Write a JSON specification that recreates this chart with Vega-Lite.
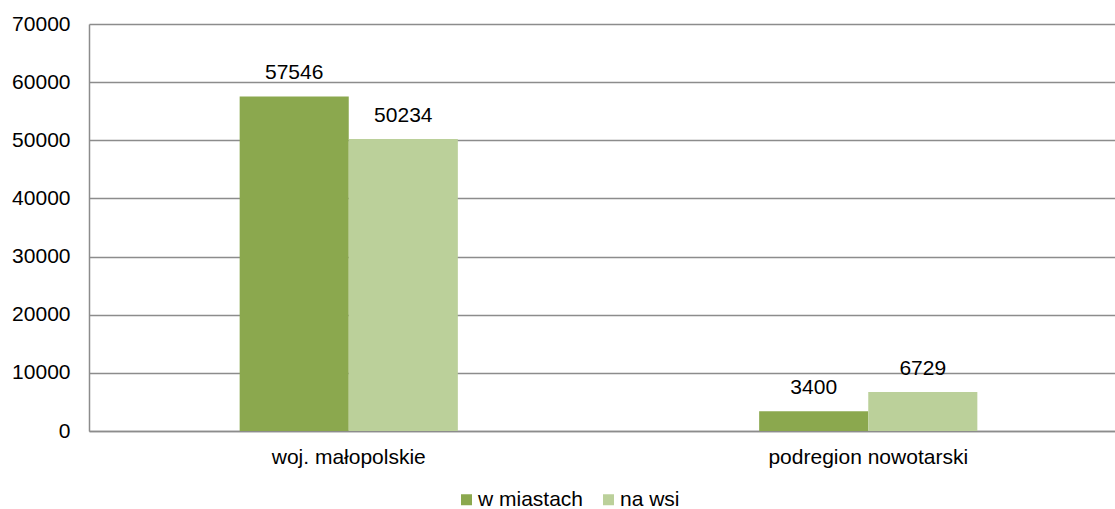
{
  "$schema": "https://vega.github.io/schema/vega-lite/v6.json",
  "width": 1039,
  "height": 407,
  "autosize": "none",
  "padding": {"left": 89, "top": 24, "right": 0, "bottom": 78},
  "background": "white",
  "config": {
    "view": {"stroke": null},
    "font": "Liberation Sans",
    "text": {"font": "Liberation Sans"}
  },
  "data": {
    "values": [
      {"region": "woj. małopolskie", "typ": "w miastach", "value": 57546},
      {"region": "woj. małopolskie", "typ": "na wsi", "value": 50234},
      {"region": "podregion nowotarski", "typ": "w miastach", "value": 3400},
      {"region": "podregion nowotarski", "typ": "na wsi", "value": 6729}
    ]
  },
  "encoding": {
    "x": {
      "field": "region", "type": "nominal", "sort": null,
      "scale": {"paddingInner": 0.58, "paddingOuter": 0.29},
      "axis": {"title": null, "labelAngle": 0, "ticks": false, "domainColor": "#8c8c8c", "domainWidth": 1.5,
               "labelFont": "Liberation Sans", "labelFontSize": 21, "labelColor": "#000000", "labelPadding": 15, "labelLimit": 0}
    },
    "xOffset": {"field": "typ", "type": "nominal", "sort": ["w miastach", "na wsi"]},
    "y": {
      "field": "value", "type": "quantitative",
      "scale": {"domain": [0, 70000], "nice": false},
      "axis": {"title": null, "values": [0, 10000, 20000, 30000, 40000, 50000, 60000, 70000], "format": "d",
               "ticks": false, "domainColor": "#8c8c8c", "domainWidth": 1.5, "gridColor": "#8c8c8c", "gridWidth": 1.5,
               "labelFont": "Liberation Sans", "labelFontSize": 21, "labelColor": "#000000", "labelPadding": 19}
    }
  },
  "layer": [
    {
      "mark": {"type": "bar"},
      "encoding": {
        "color": {
          "field": "typ", "type": "nominal",
          "scale": {"domain": ["w miastach", "na wsi"], "range": ["#8BA84E", "#BBD09A"]},
          "legend": {
            "title": null, "orient": "none", "direction": "horizontal",
            "legendX": 367, "legendY": 465,
            "symbolType": "square", "symbolSize": 121, "symbolStrokeWidth": 0,
            "labelFont": "Liberation Sans", "labelFontSize": 21, "labelColor": "#000000",
            "columnPadding": 14, "labelOffset": 1
          }
        }
      }
    },
    {
      "mark": {"type": "text", "baseline": "alphabetic", "dy": -17, "fontSize": 21, "color": "#000000"},
      "encoding": {
        "text": {"field": "value", "type": "quantitative", "format": "d"}
      }
    }
  ]
}
